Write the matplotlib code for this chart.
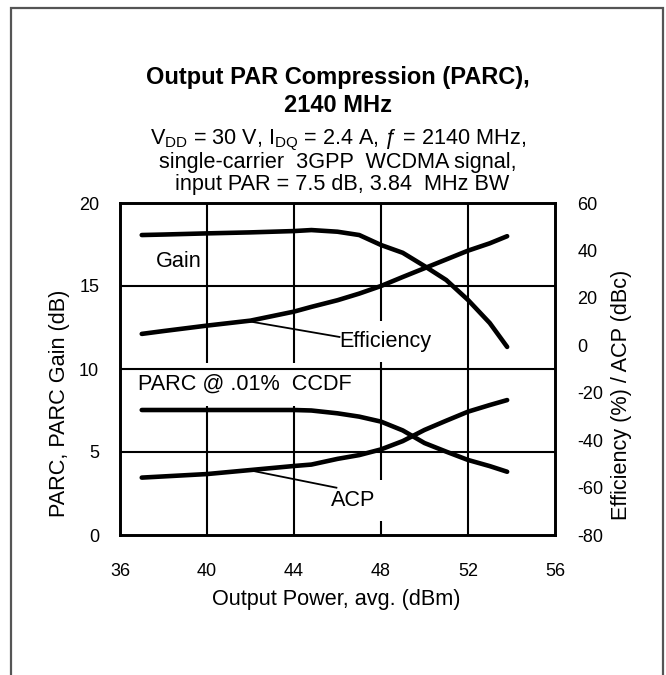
import matplotlib
matplotlib.use("Agg")
import matplotlib.pyplot as plt
from matplotlib.patches import Rectangle

plt.rcParams['font.family'] = ['Liberation Sans', 'DejaVu Sans']
plt.rcParams['mathtext.fontset'] = 'custom'
plt.rcParams['mathtext.rm'] = 'Liberation Sans'
plt.rcParams['mathtext.it'] = 'Liberation Sans:italic'

# ---- data ----
pout = [37, 38, 40, 42, 44, 44.8, 46, 47, 48, 49, 50, 51, 52, 53, 53.8]
gain = [18.07, 18.1, 18.17, 18.23, 18.31, 18.37, 18.27, 18.07, 17.47, 17.0, 16.2, 15.36, 14.16, 12.77, 11.33]
parc = [7.53, 7.53, 7.53, 7.53, 7.53, 7.5, 7.33, 7.13, 6.83, 6.3, 5.54, 5.02, 4.52, 4.15, 3.81]
eff = [4.8, 6.0, 8.3, 10.4, 14.2, 16.2, 19.0, 21.8, 25.0, 28.8, 32.5, 36.2, 39.9, 43.0, 46.0]
acp = [-55.8, -55.3, -54.3, -52.6, -50.9, -50.3, -47.9, -46.3, -43.9, -40.4, -35.7, -31.8, -28.0, -25.2, -23.1]

xticks = [36, 40, 44, 48, 52, 56]
yticks_left = [0, 5, 10, 15, 20]
yticks_right = [-80, -60, -40, -20, 0, 20, 40, 60]

W, H = 666, 675
fig = plt.figure(figsize=(W / 100, H / 100), dpi=100)

TICK_FS = 13
LAB_FS = 15.6

# outer frame (open at bottom)
fig.add_artist(Rectangle((11 / W, -0.05), (663 - 11) / W, 1.05 - 8 / H,
                         transform=fig.transFigure, fill=False,
                         edgecolor='#555555', linewidth=1.6))

ax = fig.add_axes([120 / W, 1 - 535 / H, 435 / W, 332 / H])
ax2 = ax.twinx()

ax.set_xlim(36, 56)
ax.set_ylim(0, 20)
ax2.set_ylim(-80, 60)
ax.set_xticks(xticks)
ax.set_yticks(yticks_left)
ax2.set_yticks(yticks_right)
ax.set_xticklabels([str(v) for v in xticks])
ax.set_yticklabels([str(v) for v in yticks_left])
ax2.set_yticklabels([str(v) for v in yticks_right])

ax.tick_params(axis='x', length=0, pad=20, labelsize=TICK_FS)
ax.tick_params(axis='y', length=0, pad=15, labelsize=TICK_FS)
ax2.tick_params(axis='y', length=0, pad=16, labelsize=TICK_FS)
for lab in ax2.get_yticklabels():
    lab.set_horizontalalignment('left')

for a in (ax, ax2):
    for s in a.spines.values():
        s.set_linewidth(1.9)
        s.set_color('black')

# grid lines: vertical below label boxes, horizontal above them
for v in xticks[1:-1]:
    ax.axvline(v, color='black', linewidth=1.5, zorder=1)
for v in yticks_left[1:-1]:
    ax.axhline(v, color='black', linewidth=1.5, zorder=2.4)

# curves
ax.plot(pout, gain, color='black', linewidth=3.3, solid_capstyle='round', zorder=3)
ax.plot(pout, parc, color='black', linewidth=3.3, solid_capstyle='round', zorder=3)
ax2.patch.set_visible(False)
ax.set_zorder(0)
ax2.set_zorder(1)
ax2.plot(pout, eff, color='black', linewidth=3.3, solid_capstyle='round', zorder=3)
ax2.plot(pout, acp, color='black', linewidth=3.3, solid_capstyle='round', zorder=3)

# labels on curves
box = dict(boxstyle='square,pad=0.45', facecolor='white', edgecolor='none')
ax.text(37.66, 16.14, 'Gain', fontsize=LAB_FS, ha='left', va='baseline', zorder=2)
ax.text(46.09, 11.34, 'Efficiency', fontsize=LAB_FS, ha='left', va='baseline', bbox=box, zorder=2)
ax.plot([41.85, 46.09], [12.89, 11.93], color='black', linewidth=1.3, zorder=2.5)
ax.text(36.83, 8.73, 'PARC @ .01%  CCDF', fontsize=LAB_FS, ha='left', va='baseline',
        bbox=dict(boxstyle='square,pad=0.5', facecolor='white', edgecolor='none'), zorder=2)
ax.text(45.72, 1.75, 'ACP', fontsize=LAB_FS, ha='left', va='baseline', bbox=box, zorder=2)
ax.plot([42.08, 45.95], [3.87, 2.85], color='black', linewidth=1.3, zorder=2.5)

# axis titles
fig.text(336 / W, 1 - 605 / H, 'Output Power, avg. (dBm)', fontsize=LAB_FS, ha='center', va='baseline')
fig.text(60 / W, 1 - 403 / H, 'PARC, PARC Gain (dB)', fontsize=LAB_FS, ha='center', va='center', rotation=90)
fig.text(622 / W, 1 - 395 / H, 'Efficiency (%) / ACP (dBc)', fontsize=LAB_FS, ha='center', va='center', rotation=90)

# title block
fig.text(338 / W, 1 - 84 / H, 'Output PAR Compression (PARC),', fontsize=17, fontweight='bold', ha='center', va='baseline')
fig.text(338 / W, 1 - 112 / H, '2140 MHz', fontsize=17, fontweight='bold', ha='center', va='baseline')
fig.text(338 / W, 1 - 144 / H, r'V$_{\mathrm{DD}}$ = 30 V, I$_{\mathrm{DQ}}$ = 2.4 A, ƒ = 2140 MHz,',
         fontsize=LAB_FS, ha='center', va='baseline')
fig.text(338 / W, 1 - 168 / H, 'single-carrier  3GPP  WCDMA signal,', fontsize=LAB_FS, ha='center', va='baseline')
fig.text(342 / W, 1 - 190 / H, 'input PAR = 7.5 dB, 3.84  MHz BW', fontsize=LAB_FS, ha='center', va='baseline')

fig.savefig('out.png', dpi=100)
